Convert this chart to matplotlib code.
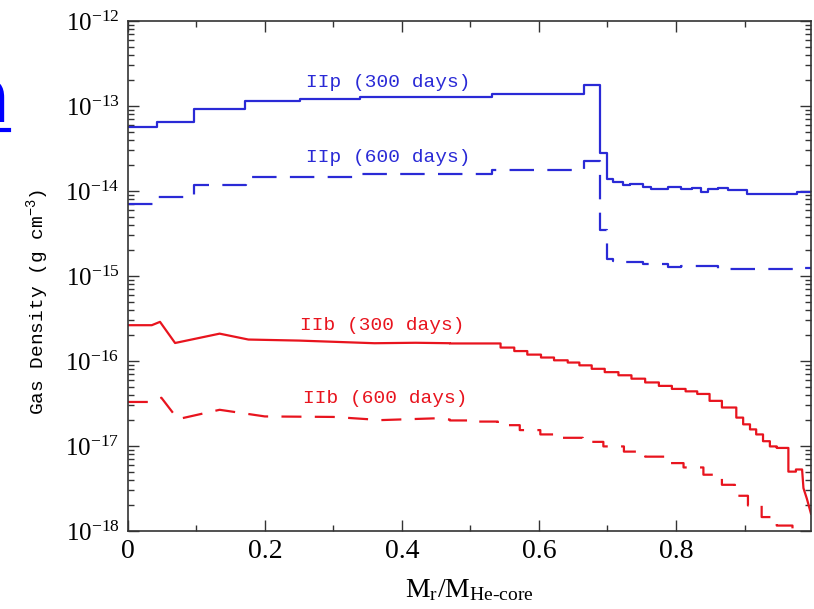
import numpy as np
import matplotlib
matplotlib.use("Agg")
import matplotlib.pyplot as plt
from matplotlib.ticker import MultipleLocator, LogLocator, NullFormatter
from matplotlib.lines import Line2D
from matplotlib.textpath import TextPath
from matplotlib.patches import PathPatch
from matplotlib.font_manager import FontProperties
from matplotlib.transforms import Affine2D, IdentityTransform

plt.rcParams['mathtext.default'] = 'regular'
plt.rcParams['mathtext.fontset'] = 'custom'
plt.rcParams['mathtext.rm'] = 'Liberation Serif'
plt.rcParams['mathtext.it'] = 'Liberation Serif:italic'
plt.rcParams['mathtext.bf'] = 'Liberation Serif:bold'

# --- data (x = M_r / M_He-core, y = gas density in g cm^-3) ---
# IIp, 300 days (stairs)
iip300_edges = [0, 0.042, 0.097, 0.171, 0.251, 0.339, 0.532, 0.666, 0.689, 0.700,
                0.708, 0.723, 0.733, 0.752, 0.764, 0.788, 0.808, 0.824, 0.836, 0.847,
                0.862, 0.876, 0.903, 0.976, 0.997]
iip300_rho = [5.6e-14, 6.5e-14, 9.2e-14, 1.16e-13, 1.21e-13, 1.26e-13, 1.39e-13, 1.77e-13,
              2.8e-14, 1.4e-14, 1.26e-14, 1.17e-14, 1.21e-14, 1.12e-14, 1.07e-14, 1.11e-14,
              1.05e-14, 1.09e-14, 9.8e-15, 1.05e-14, 1.08e-14, 1.03e-14, 9.2e-15, 9.8e-15]

# IIp, 600 days (stairs)
iip600_edges = [0, 0.040, 0.097, 0.172, 0.339, 0.532, 0.666, 0.689, 0.700, 0.708,
                0.723, 0.752, 0.788, 0.808, 0.836, 0.862, 0.903, 0.976, 0.997]
iip600_rho = [7.0e-15, 8.4e-15, 1.17e-14, 1.48e-14, 1.58e-14, 1.75e-14, 2.26e-14, 3.5e-15,
              1.57e-15, 1.5e-15, 1.45e-15, 1.37e-15, 1.28e-15, 1.31e-15, 1.31e-15, 1.22e-15,
              1.2e-15, 1.24e-15]

# IIb, 300 days: smooth inner part, then stairs, then steep tail
iib300_x = [0, 0.035, 0.047, 0.069, 0.134, 0.176, 0.25, 0.36, 0.42, 0.47]
iib300_y = [2.64e-16, 2.64e-16, 2.89e-16, 1.63e-16, 2.10e-16, 1.79e-16, 1.74e-16, 1.62e-16,
            1.64e-16, 1.62e-16]
iib300_edges = [0.47, 0.544, 0.564, 0.583, 0.603, 0.622, 0.642, 0.659, 0.677, 0.696, 0.716,
                0.735, 0.755, 0.775, 0.794, 0.814, 0.831, 0.849, 0.867, 0.888, 0.898, 0.908,
                0.917, 0.927, 0.937, 0.947, 0.964, 0.975, 0.984]
iib300_rho = [1.61e-16, 1.44e-16, 1.31e-16, 1.19e-16, 1.10e-16, 1.02e-16, 9.6e-17, 8.9e-17,
              8.1e-17, 7.4e-17, 6.8e-17, 6.2e-17, 5.6e-17, 5.1e-17, 4.7e-17, 4.4e-17, 4.1e-17,
              3.4e-17, 2.84e-17, 2.16e-17, 1.8e-17, 1.57e-17, 1.37e-17, 1.14e-17, 9.9e-18,
              9.5e-18, 5.0e-18, 5.3e-18]
iib300_tail_x = [0.986, 0.991, 0.997]
iib300_tail_y = [3.2e-18, 2.4e-18, 1.6e-18]

# IIb, 600 days
iib600_x = [0, 0.035, 0.049, 0.073, 0.134, 0.2, 0.30, 0.37, 0.45, 0.47]
iib600_y = [3.3e-17, 3.3e-17, 3.7e-17, 2.07e-17, 2.67e-17, 2.23e-17, 2.2e-17, 2.02e-17,
            2.12e-17, 2.05e-17]
iib600_edges = [0.47, 0.51, 0.54, 0.572, 0.602, 0.632, 0.664, 0.694, 0.724, 0.755, 0.785,
                0.811, 0.84, 0.867, 0.886, 0.905, 0.925, 0.947, 0.97, 0.997]
iib600_rho = [2.0e-17, 1.94e-17, 1.76e-17, 1.54e-17, 1.37e-17, 1.25e-17, 1.12e-17, 9.9e-18,
              8.6e-18, 7.5e-18, 6.3e-18, 5.6e-18, 4.6e-18, 3.5e-18, 2.6e-18, 2.0e-18,
              1.46e-18, 1.16e-18, 8e-19]

xtick_vals = [0, 0.2, 0.4, 0.6, 0.8]
xtick_labels = ['0', '0.2', '0.4', '0.6', '0.8']
ytick_vals = [1e-18, 1e-17, 1e-16, 1e-15, 1e-14, 1e-13, 1e-12]


def stair(edges, vals):
    x = np.repeat(np.asarray(edges, float), 2)[1:-1]
    y = np.repeat(np.asarray(vals, float), 2)
    return x, y


blue = '#2a2ad6'
red = '#e8141e'

fig = plt.figure(figsize=(8.14, 6.09), dpi=100)
ax = fig.add_axes([0.157, 0.128, 0.8393, 0.8375])

x, y = stair(iip300_edges, iip300_rho)
ax.plot(x, y, color=blue, lw=1.6)
x, y = stair(iip600_edges, iip600_rho)
ax.plot(x, y, color=blue, lw=1.6, dashes=(11, 6))

sx, sy = stair(iib300_edges, iib300_rho)
x = np.concatenate([iib300_x, sx, iib300_tail_x])
y = np.concatenate([iib300_y, sy, iib300_tail_y])
ax.plot(x, y, color=red, lw=1.6)

sx, sy = stair(iib600_edges, iib600_rho)
x = np.concatenate([iib600_x, sx])
y = np.concatenate([iib600_y, sy])
ax.plot(x, y, color=red, lw=1.6, dashes=(9, 6))

# curve labels
lab = dict(family='Liberation Mono', fontsize=14, ha='center', va='center')
ax.text(0.38, 1.9e-13, 'IIp (300 days)', color=blue, **lab)
ax.text(0.38, 2.5e-14, 'IIp (600 days)', color=blue, **lab)
ax.text(0.372, 2.65e-16, 'IIb (300 days)', color=red, **lab)
ax.text(0.375, 3.6e-17, 'IIb (600 days)', color=red, **lab)

ax.set_yscale('log')
ax.set_yticks(ytick_vals)
ax.set_xticks(xtick_vals)
ax.set_xticklabels(xtick_labels)
ax.xaxis.set_minor_locator(MultipleLocator(0.1))
ax.yaxis.set_minor_locator(LogLocator(base=10, subs=np.arange(2, 10)))
ax.yaxis.set_minor_formatter(NullFormatter())
ax.set_ylim(1e-18, 1e-12)
ax.set_xlim(0, 0.997)

ax.tick_params(which='both', direction='in', top=True, right=True, color='#333333')
ax.tick_params(which='major', length=8, width=1)
ax.tick_params(which='minor', length=4.5, width=1)
ax.tick_params(axis='x', labelsize=20, pad=6)
ax.tick_params(axis='y', labelsize=18, pad=6)
for t in ax.get_xticklabels() + ax.get_yticklabels():
    t.set_family('Liberation Serif')
for s in ax.spines.values():
    s.set_linewidth(1.2)
    s.set_color('#333333')

ax.set_xlabel(r'$M_r/M_{\text{He-core}}$', family='Liberation Serif', fontsize=20)
ax.set_ylabel(r'Gas Density (g cm$^{-3}$)', family='Liberation Mono', fontsize=14)
ax.xaxis.set_label_coords(0.5, -0.09)
ax.yaxis.set_label_coords(-0.112, 0.45)

# cut-off blue hyperlink fragment at the left edge of the slide (drawn as a shape)
npath = TextPath((0, 0), 'n', size=75, prop=FontProperties(family='DejaVu Sans'))
fig.add_artist(PathPatch(npath, color='#0000ff', lw=0,
                         transform=Affine2D().translate(-37, 487) + IdentityTransform()))
fig.add_artist(Line2D([0, 0.011], [0.787, 0.787], color='#0000ff', lw=3,
                      transform=fig.transFigure))

fig.savefig('out.png', dpi=100)
